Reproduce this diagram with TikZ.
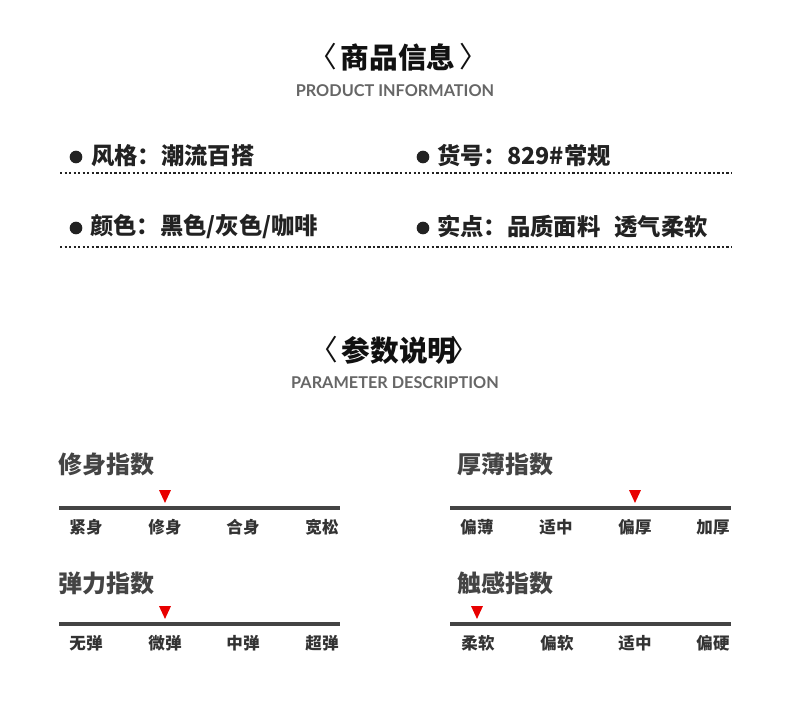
\documentclass[tikz,border=0pt]{standalone}
\usepackage{fontspec}
\setmainfont{Noto Sans CJK SC}
\newfontfamily\latfont{Lato}
\definecolor{ttl}{HTML}{111111}
\definecolor{eng}{HTML}{666666}
\definecolor{rowc}{HTML}{222222}
\definecolor{parc}{HTML}{444444}
\definecolor{barc}{HTML}{444444}
\definecolor{labc}{HTML}{333333}
\definecolor{mark}{HTML}{E80000}
\tikzset{
  bigtitle/.style={inner sep=0pt,text=ttl,font=\fontsize{21.5}{21.5}\selectfont\bfseries},
  bracket/.style={inner sep=0pt,text=ttl,font=\fontsize{21.5}{21.5}\selectfont},
  engtitle/.style={inner sep=0pt,text=eng,font=\latfont\fontsize{12.2}{12.2}\selectfont\bfseries},
  rowtext/.style={inner sep=0pt,anchor=west,text=rowc,font=\fontsize{17.5}{17.5}\selectfont\bfseries},
  bullet/.style={circle,fill=rowc,inner sep=0pt,minimum size=9.5},
  dotline/.style={draw=rowc,line width=1.9pt,dash pattern=on 1.7pt off 1.7pt},
  partitle/.style={inner sep=0pt,anchor=west,text=parc,font=\fontsize{18}{18}\selectfont\bfseries},
  bar/.style={draw=barc,line width=2.4pt},
  tick/.style={inner sep=0pt,text=labc,font=\fontsize{12.4}{12.4}\selectfont\bfseries},
  redmark/.style={isosceles triangle,isosceles triangle apex angle=50,shape border rotate=-90,fill=mark,inner sep=0pt,minimum height=9.5pt,minimum width=8.5pt}
}
\usetikzlibrary{shapes.geometric}
\begin{document}
\begin{tikzpicture}[x=0.75pt,y=-0.75pt]
\useasboundingbox[fill=white] (0,0) rectangle (790,710);
% title 1
\node[bracket] (lb1) at (323,57) {〈};
\node[bigtitle] (t1) at (398,57) {商品信息};
\node[bracket] (rb1) at (474,57) {〉};
\node[engtitle] (e1) at (395,91) {PRODUCT INFORMATION};
% row 1
\node[bullet] (b1) at (76,157) {};
\node[rowtext] (r1) at (91,156) {风格：潮流百搭};
\node[bullet] (b2) at (423,157) {};
\node[rowtext] (r2) at (437,156) {货号：829\#常规};
\coordinate (d1a) at (60,173);
\coordinate (d1b) at (732,173);
\draw[dotline] (d1a) -- (d1b);
% row 2
\node[bullet] (b3) at (76,228) {};
\node[rowtext] (r3) at (90,227) {颜色：黑色/灰色/咖啡};
\node[bullet] (b4) at (423,228) {};
\node[rowtext] (r4) at (437,227) {实点：品质面料\hspace{0.6em}透气柔软};
\coordinate (d2a) at (60,247);
\coordinate (d2b) at (732,247);
\draw[dotline] (d2a) -- (d2b);
% title 2
\node[bracket] (lb2) at (324,350) {〈};
\node[bigtitle] (t2) at (399,350) {参数说明};
\node[bracket] (rb2) at (465,350) {〉};
\node[engtitle] (e2) at (395,383) {PARAMETER DESCRIPTION};
% param 1
\node[partitle] (p1) at (58,464) {修身指数};
\node[redmark] (m1) at (165,494) {};
\coordinate (l1a) at (59,508); \coordinate (l1b) at (340,508);
\draw[bar] (l1a) -- (l1b);
\node[tick] (a1) at (86,527) {紧身};
\node[tick] (a2) at (165,527) {修身};
\node[tick] (a3) at (243,527) {合身};
\node[tick] (a4) at (322,527) {宽松};
% param 2
\node[partitle] (p2) at (457,464) {厚薄指数};
\node[redmark] (m2) at (635,494) {};
\coordinate (l2a) at (450,508); \coordinate (l2b) at (731,508);
\draw[bar] (l2a) -- (l2b);
\node[tick] (c1) at (477,527) {偏薄};
\node[tick] (c2) at (556,527) {适中};
\node[tick] (c3) at (635,527) {偏厚};
\node[tick] (c4) at (713,527) {加厚};
% param 3
\node[partitle] (p3) at (58,583) {弹力指数};
\node[redmark] (m3) at (165,610) {};
\coordinate (l3a) at (59,624); \coordinate (l3b) at (340,624);
\draw[bar] (l3a) -- (l3b);
\node[tick] (f1) at (86,643) {无弹};
\node[tick] (f2) at (165,643) {微弹};
\node[tick] (f3) at (243,643) {中弹};
\node[tick] (f4) at (322,643) {超弹};
% param 4
\node[partitle] (p4) at (457,583) {触感指数};
\node[redmark] (m4) at (477,610) {};
\coordinate (l4a) at (450,624); \coordinate (l4b) at (731,624);
\draw[bar] (l4a) -- (l4b);
\node[tick] (g1) at (478,643) {柔软};
\node[tick] (g2) at (557,643) {偏软};
\node[tick] (g3) at (635,643) {适中};
\node[tick] (g4) at (713,643) {偏硬};
\end{tikzpicture}
\end{document}
